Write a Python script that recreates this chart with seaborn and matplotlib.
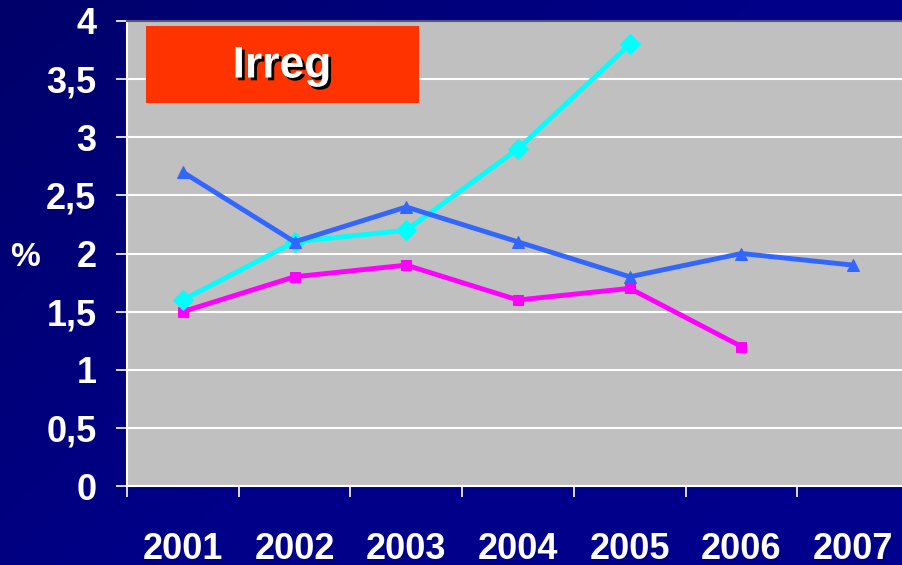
import numpy as np
import pandas as pd
import matplotlib
matplotlib.use("Agg")
import matplotlib.pyplot as plt
import matplotlib.patheffects as pe
from matplotlib.patches import Rectangle
from matplotlib.ticker import FixedLocator, NullFormatter, FixedFormatter
from matplotlib.colors import LinearSegmentedColormap
import seaborn as sns

# ---- data ----
years = ["2001", "2002", "2003", "2004", "2005", "2006", "2007"]
blue_vals = [2.7, 2.1, 2.4, 2.1, 1.8, 2.0, 1.9]
cyan_vals = [1.6, 2.1, 2.2, 2.9, 3.8]
magenta_vals = [1.5, 1.8, 1.9, 1.6, 1.7, 1.2]
y_ticks = [0, 0.5, 1, 1.5, 2, 2.5, 3, 3.5, 4]
y_tick_labels = ["0", "0,5", "1", "1,5", "2", "2,5", "3", "3,5", "4"]
title_text = "Irreg"
y_label = "%"

rows = []
for name, vals in [("magenta", magenta_vals), ("cyan", cyan_vals), ("blue", blue_vals)]:
    for i, v in enumerate(vals):
        rows.append({"year": years[i], "pos": i, "value": v, "series": name})
df = pd.DataFrame(rows)

sns.set_style("white")
narrow = ["Liberation Sans Narrow", "DejaVu Sans Condensed", "Liberation Sans", "DejaVu Sans"]

fig = plt.figure(figsize=(9.03, 5.65), dpi=100)
fig.patch.set_facecolor("#000084")

# background gradient
bg = fig.add_axes([0, 0, 1, 1], zorder=-10)
gx = np.linspace(0, 1, 200)
gy = np.linspace(0, 1, 120)
X, Y = np.meshgrid(gx, gy)
grad = 0.6 * X + 0.4 * (1 - Y)
cmap = LinearSegmentedColormap.from_list("bgc", ["#00006A", "#000088", "#00008E"])
bg.imshow(grad, cmap=cmap, aspect="auto", extent=[0, 1, 0, 1], origin="lower")
bg.set_axis_off()

ax = fig.add_axes([127 / 903, 79 / 565, 782 / 903, 465 / 565])
ax.set_facecolor("#C0C0C0")

palette = {"magenta": "#FF00FF", "cyan": "#00FFFF", "blue": "#3366FF"}
markers = {"magenta": "s", "cyan": "D", "blue": "^"}
sizes_m = {"magenta": 7, "cyan": 10, "blue": 8}

for name in ["magenta", "cyan", "blue"]:
    sub = df[df["series"] == name]
    sns.lineplot(data=sub, x="pos", y="value", ax=ax, color=palette[name],
                 marker=markers[name], markersize=sizes_m[name],
                 markeredgecolor=palette[name], linewidth=3.5, legend=False,
                 zorder=3)

ax.set_xlim(-0.5, len(years) - 0.5)
ax.set_ylim(0, 4)
ax.set_xlabel("")
ax.set_ylabel("")

ax.set_yticks(y_ticks)
ax.set_yticklabels(y_tick_labels)
ax.yaxis.grid(True, color="white", linewidth=1.5)
ax.set_axisbelow(True)

ax.xaxis.set_major_locator(FixedLocator(np.arange(-0.5, len(years), 1.0)))
ax.xaxis.set_major_formatter(NullFormatter())
ax.xaxis.set_minor_locator(FixedLocator(np.arange(len(years))))
ax.xaxis.set_minor_formatter(FixedFormatter(years))
ax.tick_params(axis="x", which="major", direction="out", length=8, width=1.2,
               color="white", bottom=True)
ax.tick_params(axis="x", which="minor", length=0, pad=33, labelcolor="white",
               bottom=True)
ax.tick_params(axis="y", direction="out", length=8, width=1.2, color="white",
               labelcolor="white", pad=14, left=True)

for lab in ax.get_xticklabels(minor=True) + ax.get_yticklabels():
    lab.set_fontfamily(narrow)
    lab.set_fontweight("bold")
    lab.set_fontsize(26)

for s in ["left", "bottom"]:
    ax.spines[s].set_color("white")
    ax.spines[s].set_linewidth(1.5)
ax.spines["right"].set_visible(False)
ax.spines["top"].set_color("#55557A")
ax.spines["top"].set_linewidth(1.5)

fig.text(25 / 903, 1 - 258 / 565, y_label, color="white", fontsize=24,
         fontweight="bold", family=narrow, ha="center", va="center")

fig.add_artist(Rectangle((146 / 903, 1 - 103 / 565), 273 / 903, 77 / 565,
                         transform=fig.transFigure, facecolor="#FF3300",
                         edgecolor="none", zorder=5))
fig.text(282 / 903, 1 - 66 / 565, title_text, color="white", fontsize=32,
         fontweight="bold", family=["Liberation Sans", "DejaVu Sans"],
         ha="center", va="center", zorder=6,
         path_effects=[pe.withSimplePatchShadow(offset=(2, -2), shadow_rgbFace="black", alpha=1.0)])

fig.savefig("out.png", dpi=100, facecolor=fig.get_facecolor())
